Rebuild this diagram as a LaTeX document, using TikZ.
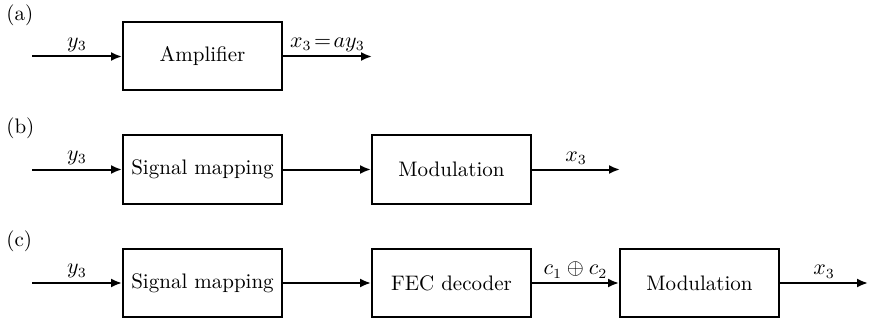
\documentclass[tikz,border=0pt]{standalone}
\usetikzlibrary{arrows.meta}
\begin{document}
\begin{tikzpicture}[x=0.5pt,y=-0.5pt,
  blk/.style={draw, line width=1pt, minimum width=79.5pt, minimum height=34pt, inner sep=0pt, font=\fontsize{10.5}{12}\selectfont},
  arr/.style={line width=1pt, -{Latex[length=5.5pt,width=4.5pt]}},
  lbl/.style={above, inner sep=2pt, font=\fontsize{10.5}{12}\selectfont},
  tag/.style={anchor=west, inner sep=0pt, font=\fontsize{10.5}{12}\selectfont}]
\useasboundingbox (0,0) rectangle (870,320);
% (a)
\node[tag] (ta) at (6,15) {(a)};
\coordinate (ina) at (32,56.5);
\node[blk] (amp) at (202.5,56.5) {Amplifier};
\coordinate (outa) at (372,56.5);
\draw[arr] (ina) -- node[lbl] {$y_3$} (amp);
\draw[arr] (amp) -- node[lbl] {$x_3\!=\!ay_3$} (outa);
% (b)
\node[tag] (tb) at (6,128) {(b)};
\coordinate (inb) at (32,169.5);
\node[blk] (smb) at (202.5,169.5) {Signal mapping};
\node[blk] (modb) at (451.5,169.5) {Modulation};
\coordinate (outb) at (620,169.5);
\draw[arr] (inb) -- node[lbl] {$y_3$} (smb);
\draw[arr] (smb) -- (modb);
\draw[arr] (modb) -- node[lbl] {$x_3$} (outb);
% (c)
\node[tag] (tc) at (6,241) {(c)};
\coordinate (inc) at (32,283);
\node[blk] (smc) at (202.5,283) {Signal mapping};
\node[blk] (fec) at (451.5,283) {FEC decoder};
\node[blk] (modc) at (699.5,283) {Modulation};
\coordinate (outc) at (868,283);
\draw[arr] (inc) -- node[lbl] {$y_3$} (smc);
\draw[arr] (smc) -- (fec);
\draw[arr] (fec) -- node[lbl] {$c_1 \oplus c_2$} (modc);
\draw[arr] (modc) -- node[lbl] {$x_3$} (outc);
\end{tikzpicture}
\end{document}
